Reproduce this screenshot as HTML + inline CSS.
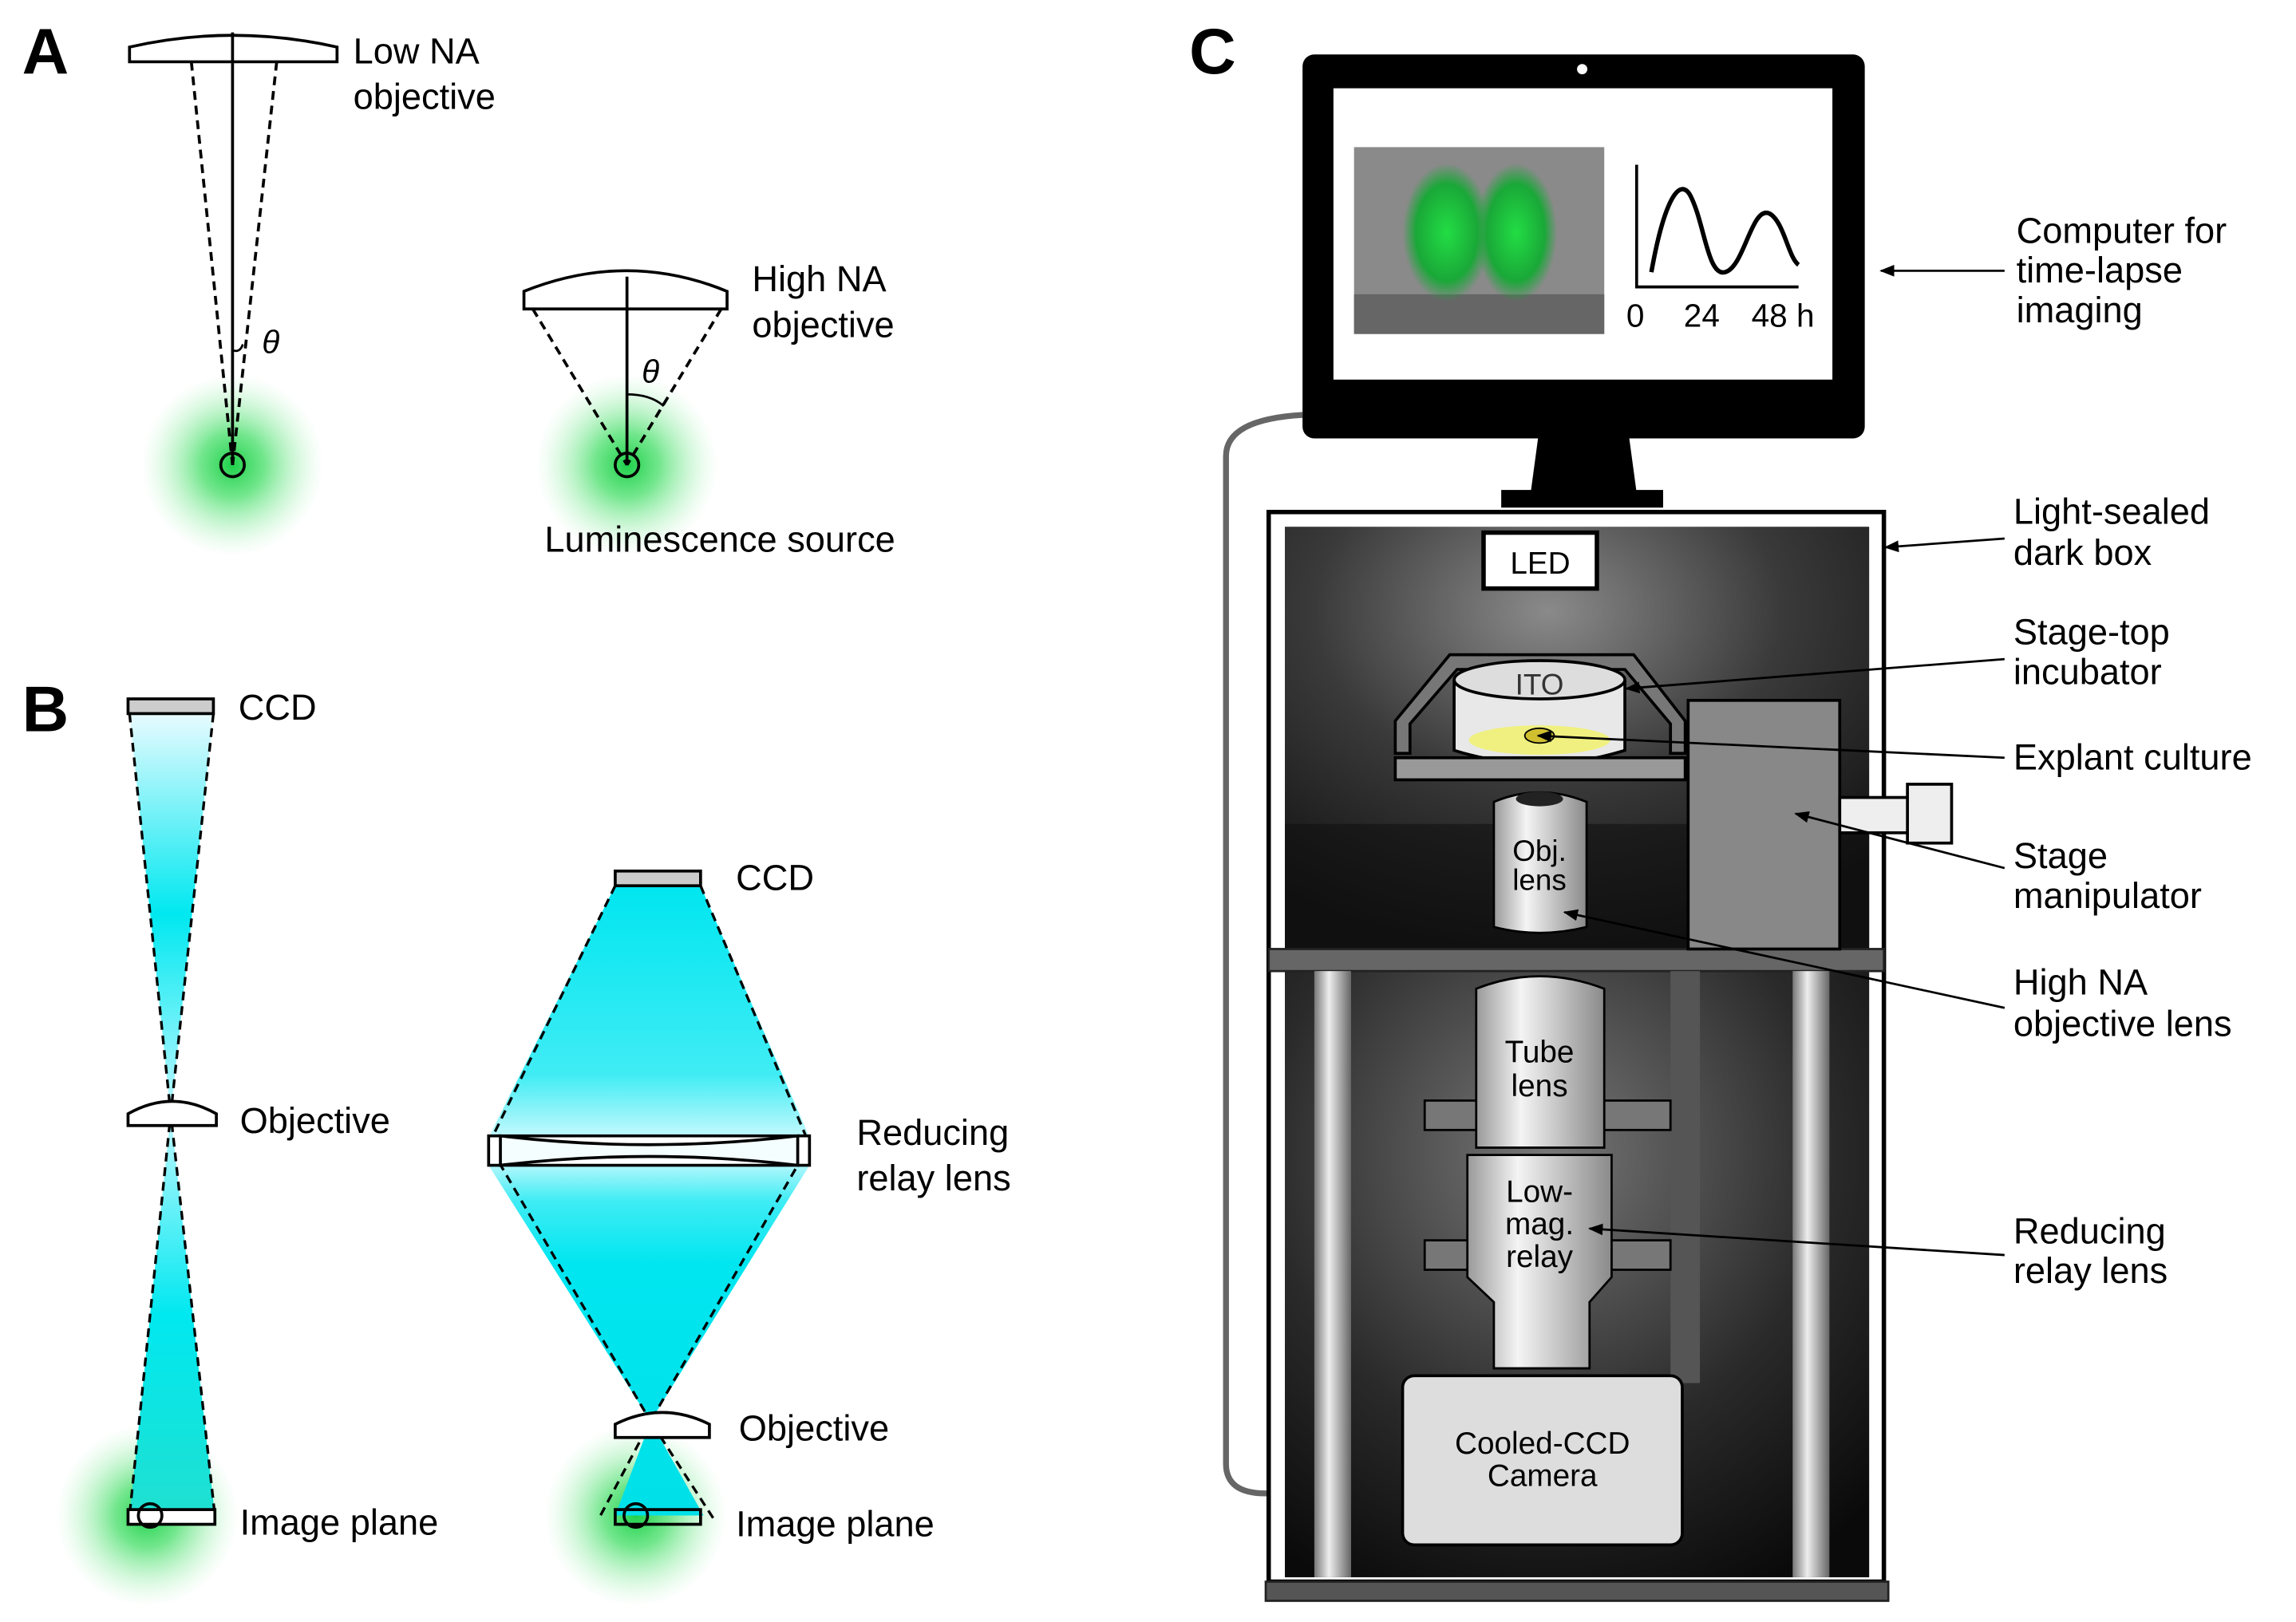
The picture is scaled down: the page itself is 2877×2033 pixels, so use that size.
<!DOCTYPE html>
<html><head><meta charset="utf-8"><style>html,body{margin:0;padding:0;background:#fff}svg{display:block}</style></head>
<body>
<svg width="2877" height="2033" viewBox="0 0 1560 1102.4" preserveAspectRatio="none" xmlns="http://www.w3.org/2000/svg" font-family="Liberation Sans, sans-serif">
<defs>
<radialGradient id="glow"><stop offset="0" stop-color="#1ed04a"/><stop offset="0.35" stop-color="#4fe070" stop-opacity="0.8"/><stop offset="1" stop-color="#b8f5c5" stop-opacity="0"/></radialGradient>
<linearGradient id="cyanA" x1="0" y1="0" x2="0" y2="1"><stop offset="0" stop-color="#e8fbff"/><stop offset="0.25" stop-color="#00e8f0"/><stop offset="0.5" stop-color="#c0f8ff"/><stop offset="0.75" stop-color="#00e8f0"/><stop offset="1" stop-color="#20e0d0"/></linearGradient>
<linearGradient id="cyanB" x1="0" y1="0" x2="0" y2="1"><stop offset="0" stop-color="#00e6f0"/><stop offset="0.3" stop-color="#40ecf4"/><stop offset="0.42" stop-color="#e0fcff"/><stop offset="0.5" stop-color="#40ecf4"/><stop offset="0.6" stop-color="#00e6f0"/><stop offset="1" stop-color="#00e0e8"/></linearGradient>
<radialGradient id="box" cx="0.45" cy="0.2" r="0.8"><stop offset="0" stop-color="#8a8a8a"/><stop offset="0.5" stop-color="#3a3a3a"/><stop offset="1" stop-color="#111"/></radialGradient>
<radialGradient id="box2" cx="0.45" cy="0.3" r="0.8"><stop offset="0" stop-color="#777"/><stop offset="0.6" stop-color="#2a2a2a"/><stop offset="1" stop-color="#0a0a0a"/></radialGradient>
<linearGradient id="cyl" x1="0" y1="0" x2="1" y2="0"><stop offset="0" stop-color="#999"/><stop offset="0.35" stop-color="#f4f4f4"/><stop offset="1" stop-color="#8a8a8a"/></linearGradient>
<linearGradient id="pil" x1="0" y1="0" x2="1" y2="0"><stop offset="0" stop-color="#777"/><stop offset="0.4" stop-color="#eee"/><stop offset="1" stop-color="#666"/></linearGradient>
<radialGradient id="grn"><stop offset="0" stop-color="#22dd44"/><stop offset="0.7" stop-color="#1aa838"/><stop offset="1" stop-color="#1aa838" stop-opacity="0"/></radialGradient>
<marker id="ar" markerWidth="10" markerHeight="8" refX="9" refY="4" orient="auto" markerUnits="userSpaceOnUse"><path d="M0,0 L10,4 L0,8 z" fill="#000"/></marker>
</defs>
<g font-size="24.5" fill="#000">
<text x="15" y="50" font-size="44" font-weight="bold">A</text>
<circle cx="158" cy="316" r="62" fill="url(#glow)"/>
<circle cx="426" cy="316" r="62" fill="url(#glow)"/>
<path d="M88,42 L229,42 L229,32 Q158,16 88,32 Z" fill="#fff" stroke="#000" stroke-width="2"/>
<line x1="158" y1="22" x2="158" y2="316" stroke="#000" stroke-width="2"/>
<line x1="130" y1="42" x2="158" y2="316" stroke="#000" stroke-width="2" stroke-dasharray="6,4"/>
<line x1="188" y1="42" x2="158" y2="316" stroke="#000" stroke-width="2" stroke-dasharray="6,4"/>
<path d="M158,238 Q163,240 165,234" fill="none" stroke="#000" stroke-width="1.5"/>
<circle cx="158" cy="316" r="8" fill="none" stroke="#000" stroke-width="2"/>
<text x="178" y="240" font-style="italic" font-size="22">θ</text>
<text x="240" y="43">Low NA</text><text x="240" y="74">objective</text>
<path d="M356,210 L494,210 L494,198 Q426,170 356,198 Z" fill="#fff" stroke="#000" stroke-width="2"/>
<line x1="426" y1="188" x2="426" y2="316" stroke="#000" stroke-width="2"/>
<line x1="362" y1="210" x2="426" y2="316" stroke="#000" stroke-width="2" stroke-dasharray="6,4"/>
<line x1="490" y1="210" x2="426" y2="316" stroke="#000" stroke-width="2" stroke-dasharray="6,4"/>
<path d="M426,268 Q442,268 451,276" fill="none" stroke="#000" stroke-width="1.5"/>
<circle cx="426" cy="316" r="8" fill="none" stroke="#000" stroke-width="2"/>
<text x="436" y="260" font-style="italic" font-size="22">θ</text>
<text x="511" y="198">High NA</text><text x="511" y="229">objective</text>
<text x="370" y="375">Luminescence source</text>
<text x="15" y="497" font-size="44" font-weight="bold">B</text>
<circle cx="100" cy="1030" r="62" fill="url(#glow)"/>
<circle cx="432" cy="1030" r="62" fill="url(#glow)"/>
<path d="M88,485 L145,485 L116,757 L146,1030 L88,1030 L116,757 Z" fill="url(#cyanA)"/>
<path d="M88,485 L116,757 L88,1030 M145,485 L116,757 L146,1030" fill="none" stroke="#000" stroke-width="1.8" stroke-dasharray="6,4"/>
<rect x="87" y="475" width="58" height="10" fill="#ccc" stroke="#000" stroke-width="2"/>
<text x="162" y="489">CCD</text>
<path d="M87,765 L147,765 L147,757 Q117,740 87,757 Z" fill="#fff" stroke="#000" stroke-width="2"/>
<text x="163" y="770">Objective</text>
<rect x="87" y="1026" width="59" height="10" fill="#fff" stroke="#000" stroke-width="2"/>
<circle cx="102" cy="1030" r="8" fill="none" stroke="#000" stroke-width="2"/>
<text x="163" y="1043">Image plane</text>
<path d="M418,602 L476,602 L550,773 L550,792 L442,966 L478,1030 L418,1030 L442,966 L332,792 L332,773 Z" fill="url(#cyanB)"/>
<path d="M418,602 L332,778 L442,966 L408,1030 M476,602 L550,778 L442,966 L486,1034" fill="none" stroke="#000" stroke-width="1.8" stroke-dasharray="6,4"/>
<rect x="418" y="592" width="58" height="10" fill="#ccc" stroke="#000" stroke-width="2"/>
<text x="500" y="605">CCD</text>
<path d="M332,772 L550,772 L550,792 L332,792 Z" fill="#fff" stroke="#000" stroke-width="2"/>
<path d="M340,772 Q441,784 542,772 L542,792 Q441,780 340,792 Z" fill="#f4feff" stroke="#000" stroke-width="2"/>
<text x="582" y="778">Reducing</text><text x="582" y="809">relay lens</text>
<path d="M418,977 L482,977 L482,968 Q450,952 418,968 Z" fill="#fff" stroke="#000" stroke-width="2"/>
<text x="502" y="979">Objective</text>
<rect x="418" y="1026" width="58" height="10" fill="none" stroke="#000" stroke-width="2"/>
<circle cx="432" cy="1030" r="8" fill="none" stroke="#000" stroke-width="2"/>
<text x="500" y="1044">Image plane</text>
<text x="808" y="50" font-size="44" font-weight="bold">C</text>
<path d="M885,282 Q833,285 833,310 L833,995 Q833,1015 860,1015 L955,1015" fill="none" stroke="#666" stroke-width="4"/>
<rect x="885" y="37" width="382" height="261" rx="8" fill="#000"/>
<rect x="906" y="60" width="339" height="198" fill="#fff"/>
<circle cx="1075" cy="47" r="3.5" fill="#fff"/>
<rect x="920" y="100" width="170" height="127" fill="#8a8a8a"/>
<rect x="920" y="200" width="170" height="27" fill="#666"/>
<ellipse cx="983" cy="158" rx="30" ry="47" fill="url(#grn)"/>
<ellipse cx="1030" cy="158" rx="28" ry="47" fill="url(#grn)"/>
<path d="M1112,112 L1112,195 L1222,195" fill="none" stroke="#000" stroke-width="2"/>
<path d="M1122,185 C1130,140 1140,120 1148,132 C1158,150 1160,188 1172,185 C1185,182 1190,140 1202,145 C1212,150 1215,175 1222,180" fill="none" stroke="#000" stroke-width="3"/>
<text x="1105" y="222" font-size="22">0</text><text x="1144" y="222" font-size="22">24</text><text x="1190" y="222" font-size="22">48 h</text>
<path d="M1045,298 L1107,298 L1112,335 L1040,335 Z" fill="#000"/>
<rect x="1020" y="333" width="110" height="12" fill="#000"/>
<text x="1370" y="165">Computer for</text><text x="1370" y="192">time-lapse</text><text x="1370" y="219">imaging</text>
<line x1="1362" y1="184" x2="1278" y2="184" stroke="#000" stroke-width="1.5" marker-end="url(#ar)"/>
<rect x="862" y="348" width="418" height="727" fill="#fff" stroke="#000" stroke-width="3"/>
<rect x="873" y="358" width="397" height="287" fill="url(#box)"/>
<polygon points="873,560 1270,560 1270,645 873,645" fill="#111" opacity="0.6"/>
<rect x="873" y="660" width="397" height="412" fill="url(#box2)"/>
<rect x="862" y="645" width="418" height="15" fill="#666" stroke="#222" stroke-width="1.5"/>
<rect x="860" y="1075" width="423" height="13" fill="#555" stroke="#222" stroke-width="1.5"/>
<rect x="893" y="660" width="25" height="412" fill="url(#pil)"/>
<rect x="1218" y="660" width="25" height="412" fill="url(#pil)"/>
<rect x="1135" y="660" width="20" height="280" fill="#555"/>
<rect x="1008" y="362" width="77" height="38" fill="#fff" stroke="#000" stroke-width="3"/>
<text x="1046.5" y="390" text-anchor="middle" font-size="21">LED</text>
<path d="M948,512 L948,490 L985,445 L1110,445 L1145,490 L1145,512 L1135,512 L1135,492 L1104,455 L990,455 L958,492 L958,512 Z" fill="#777" stroke="#000" stroke-width="2"/>
<path d="M988,462 L988,510 Q1046,528 1104,510 L1104,462" fill="#e8e8e8" stroke="#000" stroke-width="2"/>
<ellipse cx="1046" cy="462" rx="58" ry="13" fill="#ddd" stroke="#000" stroke-width="2"/>
<ellipse cx="1046" cy="503" rx="48" ry="10" fill="#f0f080"/>
<ellipse cx="1046" cy="500" rx="10" ry="5" fill="#d0c030" stroke="#000" stroke-width="1"/>
<text x="1046" y="472" text-anchor="middle" font-size="20" fill="#333">ITO</text>
<rect x="948" y="515" width="197" height="15" fill="#999" stroke="#000" stroke-width="2"/>
<rect x="1147" y="476" width="103" height="169" fill="#888" stroke="#000" stroke-width="2"/>
<rect x="1250" y="542" width="48" height="24" fill="#eee" stroke="#000" stroke-width="2"/>
<rect x="1296" y="533" width="30" height="40" fill="#eee" stroke="#000" stroke-width="2"/>
<path d="M1015,545 Q1046,532 1078,545 L1078,630 Q1046,638 1015,630 Z" fill="url(#cyl)" stroke="#000" stroke-width="1.5"/>
<ellipse cx="1046" cy="543" rx="16" ry="5" fill="#222"/>
<text x="1046" y="585" text-anchor="middle" font-size="20">Obj.</text><text x="1046" y="605" text-anchor="middle" font-size="20">lens</text>
<rect x="968" y="748" width="167" height="20" fill="#777" stroke="#000" stroke-width="1.5"/>
<rect x="968" y="843" width="167" height="20" fill="#777" stroke="#000" stroke-width="1.5"/>
<path d="M1003,672 Q1046,655 1090,672 L1090,780 L1003,780 Z" fill="url(#cyl)" stroke="#000" stroke-width="1.5"/>
<text x="1046" y="722" text-anchor="middle" font-size="21">Tube</text><text x="1046" y="745" text-anchor="middle" font-size="21">lens</text>
<path d="M997,785 L1095,785 L1095,868 L1080,885 L1080,930 L1015,930 L1015,885 L997,868 Z" fill="url(#cyl)" stroke="#000" stroke-width="1.5"/>
<text x="1046" y="817" text-anchor="middle" font-size="21">Low-</text><text x="1046" y="839" text-anchor="middle" font-size="21">mag.</text><text x="1046" y="861" text-anchor="middle" font-size="21">relay</text>
<rect x="953" y="935" width="190" height="115" rx="8" fill="#ddd" stroke="#000" stroke-width="2"/>
<text x="1048" y="988" text-anchor="middle" font-size="21">Cooled-CCD</text><text x="1048" y="1010" text-anchor="middle" font-size="21">Camera</text>
<text x="1368" y="356">Light-sealed</text><text x="1368" y="384">dark box</text>
<line x1="1362" y1="366" x2="1281" y2="372" stroke="#000" stroke-width="1.5" marker-end="url(#ar)"/>
<text x="1368" y="438">Stage-top</text><text x="1368" y="465">incubator</text>
<line x1="1362" y1="448" x2="1105" y2="468" stroke="#000" stroke-width="1.5" marker-end="url(#ar)"/>
<text x="1368" y="523">Explant culture</text>
<line x1="1362" y1="515" x2="1045" y2="500" stroke="#000" stroke-width="1.5" marker-end="url(#ar)"/>
<text x="1368" y="590">Stage</text><text x="1368" y="617">manipulator</text>
<line x1="1362" y1="590" x2="1220" y2="553" stroke="#000" stroke-width="1.5" marker-end="url(#ar)"/>
<text x="1368" y="676">High NA</text><text x="1368" y="704">objective lens</text>
<line x1="1362" y1="685" x2="1063" y2="620" stroke="#000" stroke-width="1.5" marker-end="url(#ar)"/>
<text x="1368" y="845">Reducing</text><text x="1368" y="872">relay lens</text>
<line x1="1362" y1="853" x2="1080" y2="835" stroke="#000" stroke-width="1.5" marker-end="url(#ar)"/>
</g>
</svg>
</body></html>
